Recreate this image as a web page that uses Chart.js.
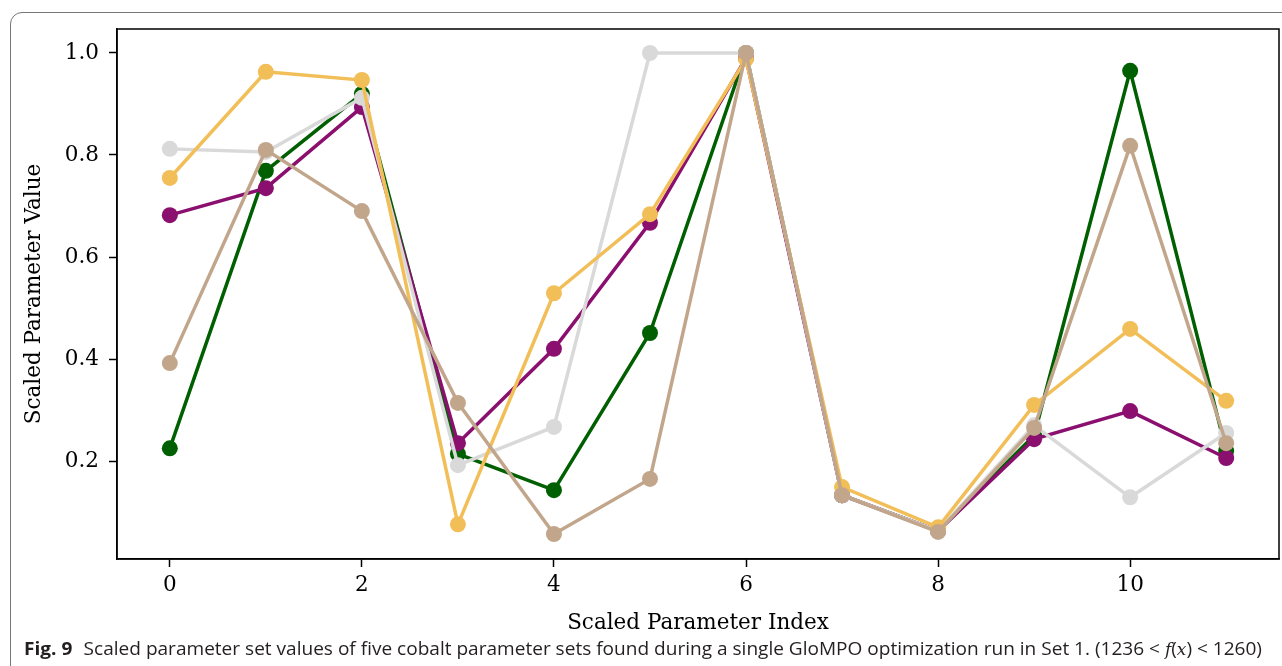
<!DOCTYPE html>
<html>
<head>
<meta charset="utf-8">
<script src="https://cdn.jsdelivr.net/npm/chart.js@4.4.0/dist/chart.umd.min.js"></script>
<style>
  body { margin: 0; background: #fff; width: 1282px; height: 666px; overflow: hidden; position: relative; }
  #frame { position: absolute; left: 10px; top: 12px; width: 1400px; height: 800px; border: 1px solid #777; border-radius: 12px; }
  #chart { position: absolute; left: 0; top: 0; }
  #caption { position: absolute; left: 24px; top: 638px; font-family: "Open Sans", sans-serif; font-size: 18px; line-height: 20px;
             color: #231f20; white-space: nowrap; transform-origin: 0 0; }
  #caption b { font-weight: 700; margin-right: 6px; }
  #caption i { font-family: "DejaVu Serif", serif; font-size: 16px; }
</style>
</head>
<body>
<div id="frame"></div>
<canvas id="chart" width="1282" height="666"></canvas>
<div id="caption"><span id="capText"><b>Fig. 9</b> Scaled parameter set values of five cobalt parameter sets found during a single GloMPO optimization run in Set 1. (1236 &lt; <i>f</i>(<i>x</i>) &lt; 1260)</span></div>
<script>
// valeurs
const paramIndex = [0, 1, 2, 3, 4, 5, 6, 7, 8, 9, 10, 11];
const setGreen  = [0.225, 0.769, 0.920, 0.214, 0.143, 0.451, 1.000, 0.133, 0.063, 0.250, 0.965, 0.220];
const setPurple = [0.682, 0.735, 0.894, 0.235, 0.420, 0.667, 0.990, 0.133, 0.063, 0.243, 0.298, 0.206];
const setGray   = [0.812, 0.806, 0.912, 0.192, 0.267, 1.000, 1.000, 0.133, 0.063, 0.270, 0.129, 0.255];
const setYellow = [0.755, 0.963, 0.947, 0.076, 0.529, 0.684, 0.988, 0.149, 0.070, 0.310, 0.459, 0.318];
const setTan    = [0.392, 0.810, 0.690, 0.314, 0.057, 0.165, 1.000, 0.133, 0.061, 0.265, 0.818, 0.235];
const xTicks = [0, 2, 4, 6, 8, 10];
const yTicks = [0.2, 0.4, 0.6, 0.8, 1.0];

const SERIF = '"DejaVu Serif", serif';
const FONT_SIZE = 21.5;

function makeSet (values, color, order) {
    return {
        data: paramIndex.map((x, i) => ({ x: x, y: values[i] })),
        borderColor: color,
        backgroundColor: color,
        pointBackgroundColor: color,
        pointBorderWidth: 0,
        pointRadius: 8,
        borderWidth: 3.5,
        tension: 0,
        order: order,
        clip: false
    };
}

// cadre noir autour de la zone de tracé
const boxPlugin = {
    id: 'box',
    afterDraw (chart) {
        const a = chart.chartArea;
        const ctx = chart.ctx;
        ctx.save();
        ctx.strokeStyle = '#000';
        ctx.lineWidth = 1.5;
        ctx.strokeRect(a.left, a.top, a.right - a.left, a.bottom - a.top);
        ctx.restore();
    }
};

new Chart(document.getElementById('chart'), {
    type: 'line',
    data: {
        datasets: [
            makeSet(setGreen, '#005f00', 5),
            makeSet(setPurple, '#8b0f6e', 4),
            makeSet(setGray, '#d9d9d9', 3),
            makeSet(setYellow, '#f2be58', 2),
            makeSet(setTan, '#c2a68c', 1)
        ]
    },
    options: {
        responsive: false,
        animation: false,
        events: [],
        layout: { autoPadding: false, padding: { left: 22, top: 29, right: 3, bottom: 30 } },
        plugins: { legend: { display: false }, tooltip: { enabled: false } },
        scales: {
            x: {
                type: 'linear',
                min: -0.55,
                max: 11.55,
                afterBuildTicks: s => { s.ticks = xTicks.map(v => ({ value: v })); },
                afterFit: s => { s.height = 77; s.paddingLeft = 0; s.paddingRight = 0; },
                grid: { drawOnChartArea: false, tickLength: 8, tickColor: '#000', tickWidth: 1.5 },
                border: { color: '#000', width: 1.5 },
                ticks: { color: '#000', font: { family: SERIF, size: FONT_SIZE }, padding: 6, maxRotation: 0 },
                title: { display: true, text: 'Scaled Parameter Index', color: '#000', font: { family: SERIF, size: FONT_SIZE }, padding: 0 }
            },
            y: {
                min: 0.008,
                max: 1.047,
                afterBuildTicks: s => { s.ticks = yTicks.map(v => ({ value: v })); },
                afterFit: s => { s.width = 95; s.paddingTop = 0; s.paddingBottom = 0; },
                grid: { drawOnChartArea: false, tickLength: 8, tickColor: '#000', tickWidth: 1.5 },
                border: { color: '#000', width: 1.5 },
                ticks: { color: '#000', font: { family: SERIF, size: FONT_SIZE }, padding: 10, callback: v => v.toFixed(1) },
                title: { display: true, text: 'Scaled Parameter Value', color: '#000', font: { family: SERIF, size: FONT_SIZE }, padding: 0 }
            }
        }
    },
    plugins: [boxPlugin]
});

// ajuste la légende à la largeur de la figure
const cap = document.getElementById('caption');
const w = document.getElementById('capText').getBoundingClientRect().width;
cap.style.transform = 'scaleX(' + (1238 / w) + ')';
</script>
</body>
</html>
